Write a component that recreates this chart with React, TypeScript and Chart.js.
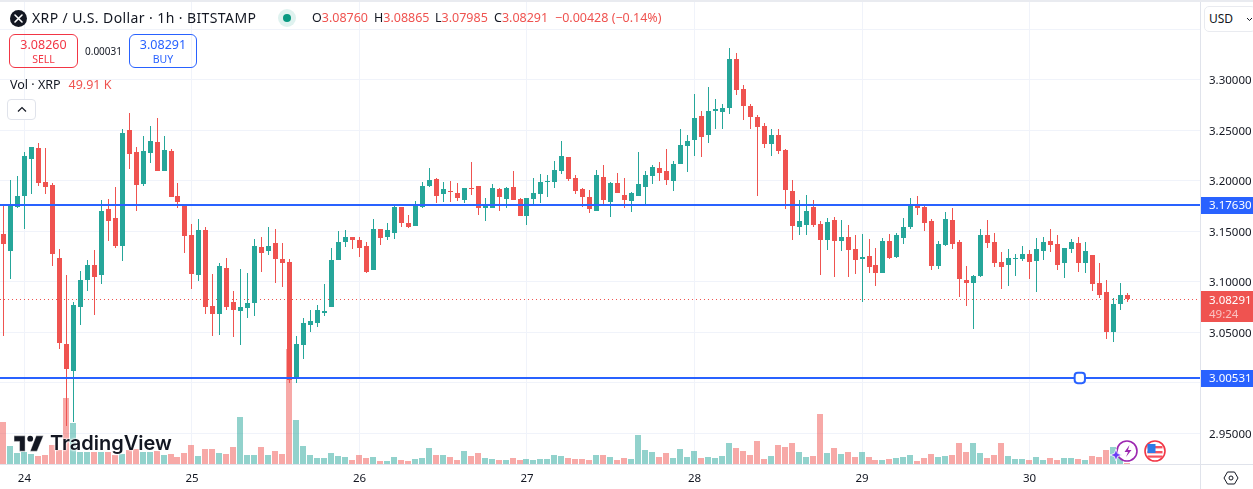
import React, { useEffect, useRef } from "react";
import { Chart, registerables } from "chart.js";

Chart.register(...registerables);

const opens = [
  3.148,3.131,3.174,3.185,3.222,3.233,3.199,3.196,3.124,3.039,
  3.012,3.075,3.102,3.117,3.107,3.172,3.163,3.136,3.250,3.229,
  3.197,3.228,3.239,3.210,3.230,3.185,3.176,3.147,3.107,3.151,
  3.076,3.068,3.114,3.080,3.071,3.074,3.079,3.135,3.131,3.139,
  3.123,3.120,3.005,3.038,3.057,3.059,3.069,3.075,3.122,3.140,
  3.145,3.142,3.136,3.112,3.152,3.145,3.149,3.174,3.158,3.155,
  3.174,3.195,3.202,3.187,3.190,3.188,3.181,3.193,3.195,3.173,
  3.173,3.192,3.182,3.194,3.182,3.165,3.182,3.187,3.199,3.199,
  3.210,3.224,3.203,3.192,3.184,3.170,3.204,3.179,3.198,3.186,
  3.180,3.185,3.194,3.205,3.213,3.210,3.200,3.217,3.235,3.241,
  3.264,3.246,3.269,3.268,3.272,3.321,3.291,3.274,3.263,3.254,
  3.237,3.246,3.231,3.190,3.154,3.156,3.174,3.157,3.142,3.161,
  3.141,3.145,3.133,3.123,3.126,3.117,3.109,3.141,3.125,3.144,
  3.154,3.176,3.174,3.160,3.116,3.137,3.161,3.140,3.102,3.099,
  3.106,3.147,3.140,3.120,3.117,3.123,3.123,3.128,3.121,3.131,
  3.141,3.138,3.119,3.133,3.139,3.119,3.127,3.099,3.090,3.050,
  3.078,3.0876,
];
const highs = [
  3.176,3.201,3.205,3.229,3.234,3.238,3.233,3.198,3.133,3.107,
  3.080,3.111,3.122,3.132,3.181,3.182,3.194,3.251,3.267,3.234,
  3.245,3.254,3.262,3.245,3.232,3.198,3.176,3.157,3.162,3.154,
  3.108,3.119,3.124,3.091,3.113,3.109,3.143,3.145,3.154,3.152,
  3.139,3.123,3.047,3.064,3.072,3.077,3.098,3.134,3.150,3.151,
  3.145,3.145,3.140,3.162,3.152,3.158,3.177,3.174,3.166,3.180,
  3.199,3.213,3.203,3.199,3.200,3.198,3.193,3.219,3.195,3.183,
  3.197,3.193,3.194,3.210,3.183,3.183,3.203,3.207,3.206,3.220,
  3.240,3.224,3.206,3.193,3.191,3.211,3.216,3.199,3.208,3.203,
  3.189,3.229,3.210,3.216,3.219,3.232,3.220,3.251,3.246,3.286,
  3.269,3.293,3.281,3.276,3.332,3.327,3.295,3.276,3.265,3.257,
  3.251,3.251,3.232,3.201,3.181,3.186,3.181,3.160,3.163,3.164,
  3.161,3.156,3.147,3.148,3.143,3.134,3.144,3.148,3.149,3.163,
  3.183,3.185,3.175,3.162,3.141,3.169,3.173,3.142,3.116,3.107,
  3.152,3.161,3.149,3.130,3.133,3.128,3.136,3.132,3.144,3.145,
  3.152,3.147,3.134,3.143,3.145,3.140,3.127,3.119,3.102,3.084,
  3.099,3.08865,
];
const lows = [
  3.047,3.103,3.173,3.152,3.187,3.195,3.187,3.116,3.034,2.957,
  2.961,3.057,3.091,3.067,3.098,3.141,3.134,3.121,3.212,3.170,
  3.195,3.218,3.210,3.210,3.184,3.173,3.129,3.093,3.101,3.068,
  3.047,3.048,3.072,3.046,3.038,3.064,3.066,3.110,3.127,3.099,
  3.095,3.000,3.000,3.024,3.050,3.055,3.066,3.075,3.122,3.135,
  3.133,3.125,3.109,3.112,3.137,3.142,3.143,3.154,3.153,3.155,
  3.173,3.194,3.178,3.179,3.179,3.180,3.178,3.186,3.166,3.160,
  3.173,3.170,3.173,3.181,3.165,3.156,3.176,3.178,3.184,3.193,
  3.207,3.200,3.187,3.174,3.168,3.170,3.176,3.164,3.188,3.173,
  3.169,3.185,3.177,3.197,3.200,3.196,3.190,3.217,3.209,3.225,
  3.224,3.238,3.251,3.251,3.266,3.285,3.260,3.251,3.185,3.233,
  3.225,3.227,3.172,3.142,3.147,3.147,3.154,3.107,3.132,3.105,
  3.131,3.105,3.108,3.080,3.109,3.096,3.109,3.123,3.124,3.138,
  3.152,3.166,3.150,3.112,3.113,3.136,3.133,3.085,3.076,3.053,
  3.105,3.134,3.115,3.093,3.096,3.106,3.121,3.103,3.090,3.122,
  3.130,3.112,3.104,3.129,3.110,3.109,3.091,3.084,3.044,3.041,
  3.072,3.07985,
];
const closes = [
  3.138,3.176,3.185,3.225,3.234,3.198,3.194,3.128,3.040,3.014,
  3.077,3.102,3.117,3.105,3.170,3.160,3.136,3.248,3.227,3.196,
  3.230,3.240,3.210,3.231,3.184,3.179,3.146,3.108,3.151,3.075,
  3.068,3.116,3.075,3.072,3.075,3.079,3.136,3.129,3.136,3.123,
  3.119,3.003,3.039,3.059,3.061,3.072,3.071,3.122,3.140,3.145,
  3.142,3.134,3.110,3.152,3.144,3.151,3.174,3.158,3.154,3.176,
  3.195,3.201,3.185,3.192,3.189,3.183,3.193,3.192,3.173,3.176,
  3.193,3.184,3.193,3.181,3.165,3.183,3.188,3.199,3.200,3.211,
  3.225,3.202,3.190,3.184,3.172,3.206,3.181,3.198,3.188,3.181,
  3.188,3.197,3.206,3.214,3.208,3.201,3.217,3.236,3.240,3.262,
  3.244,3.269,3.271,3.272,3.321,3.290,3.274,3.263,3.253,3.237,
  3.246,3.230,3.191,3.155,3.160,3.170,3.156,3.142,3.159,3.141,
  3.145,3.132,3.122,3.125,3.115,3.109,3.141,3.124,3.147,3.154,
  3.175,3.173,3.158,3.116,3.138,3.162,3.138,3.103,3.099,3.106,
  3.147,3.139,3.119,3.115,3.124,3.124,3.128,3.120,3.133,3.140,
  3.137,3.117,3.134,3.140,3.119,3.131,3.098,3.087,3.050,3.078,
  3.087,3.08291,
];
// volume, thousands of XRP
const volumes = [
  1875,795,480,525,435,345,390,840,615,2955,
  1830,525,525,525,525,525,390,465,615,690,
  525,525,570,390,435,300,480,840,345,660,
  660,480,435,750,2100,390,390,750,390,570,
  435,5160,1965,795,390,255,270,495,360,315,
  180,405,270,315,135,135,315,180,135,225,
  270,720,405,405,315,180,585,360,495,270,
  225,180,180,270,180,225,180,225,225,405,
  360,270,225,225,180,405,405,315,180,270,
  225,1305,630,540,315,495,270,675,315,585,
  270,315,270,360,945,720,585,405,1035,225,
  360,855,765,945,540,315,360,2250,495,720,
  450,540,315,540,315,180,180,225,270,315,
  405,135,270,450,315,360,405,945,540,945,
  495,270,405,945,360,225,225,180,315,180,
  270,180,270,270,225,180,360,315,630,765,
  360,49.91,
];
const dayTickIndexes = [3, 27, 51, 75, 99, 123, 147];
const dayTickLabels = ["24", "25", "26", "27", "28", "29", "30"];
const priceTicks = [2.95, 3.0, 3.05, 3.1, 3.15, 3.2, 3.25, 3.3, 3.35];
const upperLevel = 3.1763;
const lowerLevel = 3.00531;
const lastPrice = 3.08291;
const lowerHandleIndex = 154.2;

const RED = "#ef5350";
const GREEN = "#26a69a";
const BLUE = "#2962ff";
const TEXT = "#131722";
const GRID = "#f0f3fa";
const FONT = "'Noto Sans', 'Open Sans', sans-serif";
const X_MIN = -0.5014;
const X_MAX = 171.42;
const AXIS_FONT_SIZE = 11.5;

const snapPlugin = {
  id: "snap",
  beforeDatasetsDraw(chart: any) {
    chart.data.datasets.forEach((ds: any, di: number) => {
      const meta = chart.getDatasetMeta(di);
      meta.data.forEach((el: any) => {
        if (ds.snap === "center") {
          el.x = Math.floor(el.x) + 0.5;
          const t = Math.round(el.y);
          const b = Math.round(el.base);
          el.y = t;
          el.base = b === t ? t + 1 : b;
        } else if (ds.snap === "volume") {
          el.x = Math.floor(el.x);
          el.y = Math.round(el.y);
        } else if (ds.snap === "line") {
          el.y = Math.round(el.y);
        } else if (ds.snap === "dotted") {
          el.y = Math.floor(el.y) + 0.5;
        }
      });
    });
  },
};

const labelsPlugin = {
  id: "priceLabels",
  afterDraw(chart: any) {
    const { ctx } = chart;
    const y = chart.scales.y;
    const left = 1201;
    const w = 52;
    ctx.save();
    ctx.font = `${AXIS_FONT_SIZE}px ${FONT}`;
    ctx.textAlign = "left";
    ctx.textBaseline = "middle";
    [upperLevel, lowerLevel].forEach((v) => {
      const c = Math.round(y.getPixelForValue(v));
      ctx.fillStyle = BLUE;
      ctx.fillRect(left, c - 8, w, 17);
      ctx.fillStyle = "#ffffff";
      ctx.fillText(v.toFixed(5), 1209, c + 1);
    });
    const c = Math.floor(y.getPixelForValue(lastPrice));
    ctx.fillStyle = RED;
    ctx.fillRect(left, c - 8, w, 31);
    ctx.fillStyle = "#ffffff";
    ctx.fillText(lastPrice.toFixed(5), 1209, c + 2);
    ctx.fillStyle = "rgba(255,255,255,0.65)";
    ctx.fillText("49:24", 1209, c + 16);
    ctx.restore();
  },
};

const abs = (style: React.CSSProperties): React.CSSProperties => ({
  position: "absolute",
  whiteSpace: "nowrap",
  fontFamily: FONT,
  ...style,
});

function Overlay() {
  const ohlc: [string, string, number][] = [
    ["O", "3.08760", 312],
    ["H", "3.08865", 374],
    ["L", "3.07985", 435],
    ["C", "3.08291", 494],
  ];
  return (
    <div style={{ position: "absolute", inset: 0, pointerEvents: "none" }}>
      <div style={abs({ left: 0, top: 0, width: 1253, height: 2, background: "#e9ebf0" })} />
      <div style={abs({ left: 1200, top: 2, width: 1, height: 487, background: "#e0e3eb" })} />
      <div style={abs({ left: 0, top: 464, width: 1253, height: 1, background: "#e0e3eb" })} />

      <svg style={abs({ left: 10, top: 10 })} width="17" height="17" viewBox="0 0 17 17">
        <circle cx="8.5" cy="8.5" r="8.5" fill="#131722" />
        <path d="M5 5l7 7M12 5l-7 7" stroke="#fff" strokeWidth="1.6" strokeLinecap="round" />
      </svg>
      <div style={abs({ left: 32, top: 8, fontSize: 14, lineHeight: "20px", color: TEXT, letterSpacing: 0.4 })}>
        XRP / U.S. Dollar · 1h · BITSTAMP
      </div>
      <svg style={abs({ left: 278, top: 9 })} width="18" height="18" viewBox="0 0 18 18">
        <circle cx="9" cy="9" r="9" fill="rgba(8,153,129,0.13)" />
        <circle cx="9" cy="9" r="4" fill="#089981" />
      </svg>
      {ohlc.map(([k, v, left]) => (
        <div key={k} style={abs({ left, top: 9, fontSize: 12.5, lineHeight: "18px", color: RED })}>
          <span style={{ color: TEXT }}>{k}</span>
          {v}
        </div>
      ))}
      <div style={abs({ left: 555, top: 9, fontSize: 12.5, lineHeight: "18px", color: RED })}>−0.00428 (−0.14%)</div>

      <div style={abs({ left: 9, top: 34, width: 69, height: 34, boxSizing: "border-box", border: "1px solid #f23645", borderRadius: 6, textAlign: "center", color: "#f23645" })}>
        <div style={{ fontSize: 12.5, lineHeight: "17px", marginTop: 1 }}>3.08260</div>
        <div style={{ fontSize: 10.5, lineHeight: "13px" }}>SELL</div>
      </div>
      <div style={abs({ left: 85, top: 44, fontSize: 10, lineHeight: "14px", color: TEXT })}>0.00031</div>
      <div style={abs({ left: 129, top: 34, width: 68, height: 34, boxSizing: "border-box", border: `1px solid ${BLUE}`, borderRadius: 6, textAlign: "center", color: BLUE })}>
        <div style={{ fontSize: 12.5, lineHeight: "17px", marginTop: 1 }}>3.08291</div>
        <div style={{ fontSize: 10.5, lineHeight: "13px" }}>BUY</div>
      </div>

      <div style={abs({ left: 10, top: 76, fontSize: 12.5, lineHeight: "18px", color: TEXT })}>
        Vol · XRP<span style={{ color: RED, marginLeft: 8 }}>49.91 K</span>
      </div>
      <div style={abs({ left: 7, top: 99, width: 29, height: 21, boxSizing: "border-box", border: "1px solid #e0e3eb", borderRadius: 4, background: "#fff" })}>
        <svg style={{ position: "absolute", left: 9, top: 6 }} width="10" height="7" viewBox="0 0 10 7">
          <path d="M1 5.5L5 1.5L9 5.5" fill="none" stroke={TEXT} strokeWidth="1.2" />
        </svg>
      </div>

      <div style={abs({ left: 1204, top: 6, width: 52, height: 26, boxSizing: "border-box", border: "1px solid #e9ebf0", borderRadius: 5, fontSize: 12, lineHeight: "24px", paddingLeft: 4, color: TEXT, background: "#fff" })}>
        USD
      </div>
      <svg style={abs({ left: 1246, top: 17 })} width="7" height="5" viewBox="0 0 7 5">
        <path d="M1 1l2.5 2.5L6 1" fill="none" stroke={TEXT} strokeWidth="1" />
      </svg>

      <svg style={abs({ left: 13, top: 435 })} width="31" height="17" viewBox="0 0 36 20">
        <path d="M14 1H1v6.5h6.5V19H14V1zM28 19h-8l7-18h8.5l-7.5 18z" fill="#131722" stroke="#fff" strokeWidth="0.5" />
        <circle cx="20" cy="4.3" r="3.4" fill="#131722" />
      </svg>
      <div style={abs({ left: 50, top: 429, fontFamily: "Inter, Roboto, sans-serif", fontSize: 20, fontWeight: 600, lineHeight: "28px", color: "#131722", textShadow: "0 0 2px #fff, 0 0 2px #fff, 0 0 3px #fff" })}>
        TradingView
      </div>

      <svg style={abs({ left: 1108, top: 439 })} width="32" height="26" viewBox="0 0 32 26">
        <circle cx="19" cy="12" r="10" fill="#fff" stroke="#9c27b0" strokeWidth="1.6" />
        <path d="M21.5 6l-5 7h3.5l-2 5 5.5-7H20z" fill="#9c27b0" />
        <path d="M8 10l1.6 4.4L14 16l-4.4 1.6L8 22l-1.6-4.4L2 16l4.4-1.6z" fill="#6a3df5" stroke="#fff" strokeWidth="0.8" />
      </svg>
      <svg style={abs({ left: 1144, top: 440 })} width="22" height="22" viewBox="0 0 22 22">
        <circle cx="11" cy="11" r="10" fill="#fff" stroke="#f23645" strokeWidth="1.6" />
        <rect x="3.5" y="6" width="15" height="2.4" fill="#f7525f" />
        <rect x="3.5" y="11" width="15" height="2.4" fill="#f7525f" />
        <rect x="3.5" y="15.5" width="15" height="2.2" fill="#f7525f" />
        <rect x="3.5" y="4" width="8" height="9" fill="#2e7be6" />
      </svg>

      <svg style={abs({ left: 1223, top: 470 })} width="16" height="16" viewBox="0 0 16 16">
        <path d="M4.5 2h7L15 8l-3.5 6h-7L1 8z" fill="none" stroke={TEXT} strokeWidth="1" />
        <circle cx="8" cy="8" r="2" fill="none" stroke={TEXT} strokeWidth="1" />
      </svg>
    </div>
  );
}

const noPadding = (s: any) => {
  s.paddingLeft = 0;
  s.paddingRight = 0;
  s.paddingTop = 0;
  s.paddingBottom = 0;
};

export default function App() {
  const ref = useRef<HTMLCanvasElement | null>(null);

  useEffect(() => {
    document.body.style.margin = "0";
    const indexes = closes.map((_, i) => i);
    const colors = indexes.map((i) => (closes[i] >= opens[i] ? GREEN : RED));
    const volColors = indexes.map((i) =>
      closes[i] >= opens[i] ? "rgba(38,166,154,0.5)" : "rgba(239,83,80,0.5)"
    );
    const flat = (v: number) => [
      { x: X_MIN, y: v },
      { x: X_MAX, y: v },
    ];
    const chart = new Chart(ref.current as HTMLCanvasElement, {
      type: "bar",
      data: {
        datasets: [
          {
            label: "Vol",
            snap: "volume",
            yAxisID: "vol",
            order: 6,
            data: indexes.map((i) => ({ x: i, y: volumes[i] })),
            backgroundColor: volColors,
            barThickness: 6,
            borderWidth: 0,
            inflateAmount: 0,
          },
          {
            type: "line",
            label: "Last",
            snap: "dotted",
            order: 5,
            data: flat(lastPrice),
            borderColor: RED,
            borderWidth: 1,
            borderDash: [1, 3],
            pointRadius: 0,
          },
          {
            label: "Wick",
            snap: "center",
            order: 4,
            data: indexes.map((i) => ({ x: i, y: [lows[i], highs[i]] })),
            backgroundColor: colors,
            barThickness: 1,
            borderWidth: 0,
            inflateAmount: 0,
          },
          {
            label: "Body",
            snap: "center",
            order: 3,
            data: indexes.map((i) => ({ x: i, y: [opens[i], closes[i]] })),
            backgroundColor: colors,
            barThickness: 5,
            borderWidth: 0,
            inflateAmount: 0,
          },
          {
            type: "line",
            label: "Upper",
            snap: "line",
            order: 2,
            data: flat(upperLevel),
            borderColor: BLUE,
            borderWidth: 2,
            pointRadius: 0,
          },
          {
            type: "line",
            label: "Lower",
            snap: "line",
            order: 2,
            data: flat(lowerLevel),
            borderColor: BLUE,
            borderWidth: 2,
            pointRadius: 0,
          },
          {
            type: "line",
            label: "Handle",
            snap: "line",
            order: 1,
            data: [{ x: lowerHandleIndex, y: lowerLevel }],
            showLine: false,
            pointStyle: "rectRounded",
            pointRadius: 6,
            pointBackgroundColor: "#ffffff",
            pointBorderColor: BLUE,
            pointBorderWidth: 2,
          },
        ] as any,
      },
      options: {
        responsive: false,
        animation: false,
        events: [],
        layout: { padding: 0, autoPadding: false },
        datasets: { bar: { grouped: false } },
        plugins: { legend: { display: false }, tooltip: { enabled: false } },
        scales: {
          x: {
            type: "linear",
            min: X_MIN,
            max: X_MAX,
            offset: false,
            afterFit: (s: any) => {
              s.height = 25;
              noPadding(s);
            },
            afterBuildTicks: (s: any) => {
              s.ticks = dayTickIndexes.map((value) => ({ value }));
            },
            grid: { color: GRID, drawTicks: false, offset: false },
            border: { display: false },
            ticks: {
              autoSkip: false,
              maxRotation: 0,
              color: TEXT,
              padding: 8,
              font: { family: FONT, size: AXIS_FONT_SIZE },
              callback: (v: any) => dayTickLabels[dayTickIndexes.indexOf(v)] ?? "",
            },
          },
          y: {
            type: "linear",
            position: "right",
            min: 2.9198,
            max: 3.3792,
            afterFit: (s: any) => {
              s.width = 53;
              noPadding(s);
            },
            afterBuildTicks: (s: any) => {
              s.ticks = priceTicks.map((value) => ({ value }));
            },
            grid: { color: GRID, drawTicks: false },
            border: { display: false },
            ticks: {
              autoSkip: false,
              color: TEXT,
              padding: 9,
              labelOffset: 1,
              align: "center",
              crossAlign: "near",
              font: { family: FONT, size: AXIS_FONT_SIZE },
              callback: (v: any) => (Number(v) > 3.34 ? "" : Number(v).toFixed(5)),
            },
          },
          vol: {
            type: "linear",
            display: false,
            position: "left",
            min: 0,
            max: 20880,
          },
        },
      } as any,
      plugins: [snapPlugin, labelsPlugin] as any,
    });
    return () => chart.destroy();
  }, []);

  return (
    <div style={{ position: "relative", width: 1253, height: 489, overflow: "hidden", background: "#fff" }}>
      <canvas ref={ref} width={1253} height={489} style={{ display: "block", width: 1253, height: 489 }} />
      <Overlay />
    </div>
  );
}
